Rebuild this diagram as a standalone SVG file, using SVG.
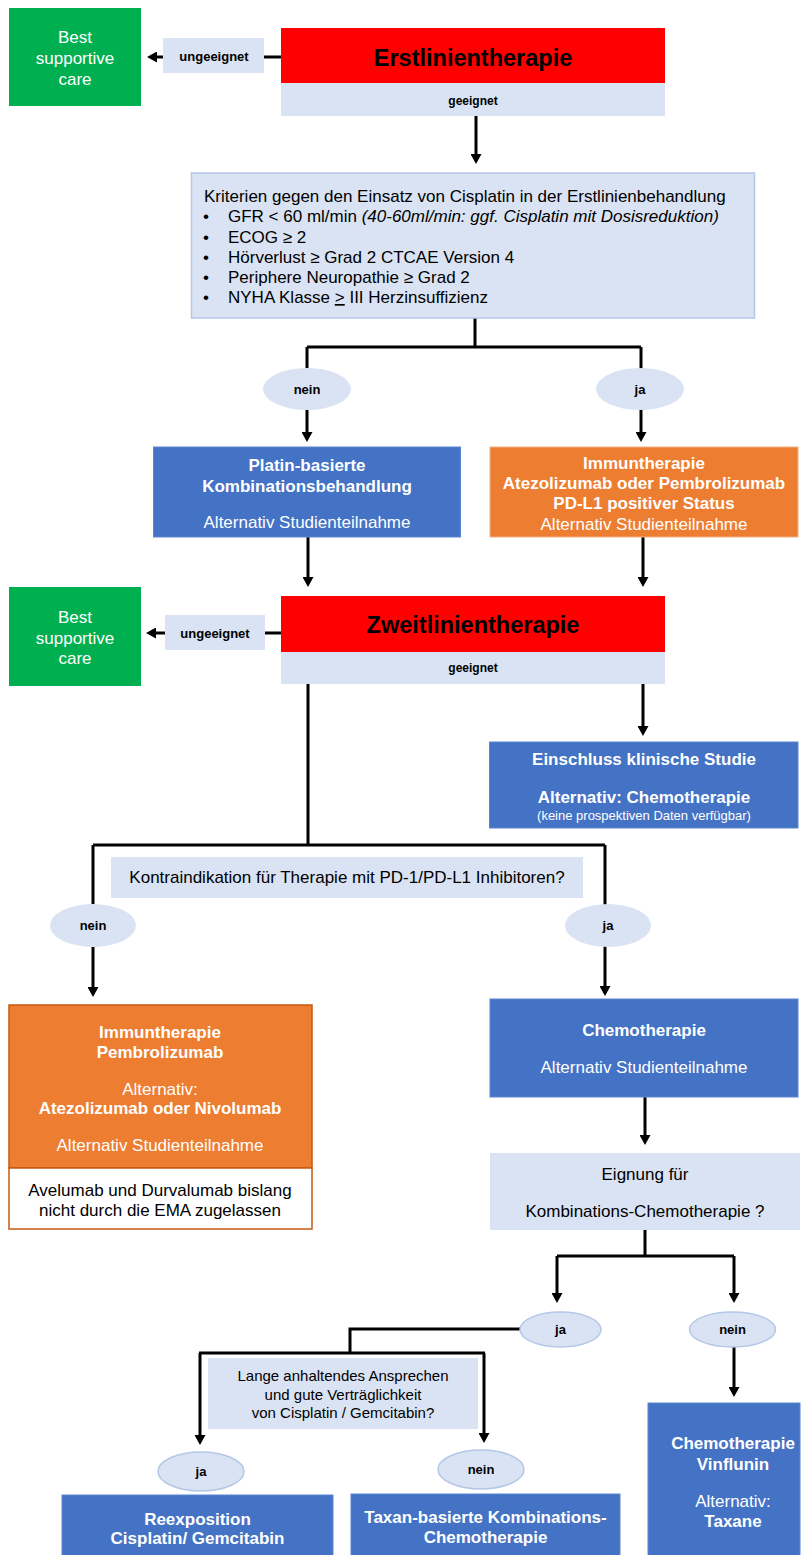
<svg xmlns="http://www.w3.org/2000/svg" width="807" height="1555" viewBox="0 0 807 1555">
<style>
text{font-family:"Liberation Sans",Arial,sans-serif;}
.c{text-anchor:middle}
.t17{font-size:17px}
.b{font-weight:bold}
.w{fill:#fff}
.k{fill:#000}
.lbl{font-size:13px;font-weight:bold;text-anchor:middle;fill:#000}
.title{font-size:23.5px;font-weight:bold;text-anchor:middle;fill:#000}
.conn{fill:none;stroke:#000;stroke-width:3}
.green{fill:#00B050}
.red{fill:#FF0000}
.pale{fill:#DAE3F3}
.paleS{fill:#DAE3F3;stroke:#B4C7E7;stroke-width:1.5}
.blue{fill:#4472C4;stroke:#5B86D0;stroke-width:1}
.orange{fill:#ED7D31;stroke:#F4B183;stroke-width:1}
.ell{fill:#DAE3F3;stroke:#B4C7E7;stroke-width:1.5}
</style>
<defs>
<marker id="ah" markerWidth="10" markerHeight="11" refX="3" refY="5.5" orient="auto" markerUnits="userSpaceOnUse">
<path d="M0,0 L10,5.5 L0,11 z" fill="#000"/>
</marker>
</defs>

<g id="connectors">
<path class="conn" d="M281,57 H154" marker-end="url(#ah)"/>
<path class="conn" d="M476,116 V157" marker-end="url(#ah)"/>
<path class="conn" d="M475,318 V347 M307,347 H641"/>
<path class="conn" d="M307,347 V435" marker-end="url(#ah)"/>
<path class="conn" d="M641,347 V435" marker-end="url(#ah)"/>
<path class="conn" d="M308,537 V580" marker-end="url(#ah)"/>
<path class="conn" d="M643,537 V580" marker-end="url(#ah)"/>
<path class="conn" d="M281,633 H153" marker-end="url(#ah)"/>
<path class="conn" d="M308,684 V845 M93,845 H605"/>
<path class="conn" d="M643,684 V729" marker-end="url(#ah)"/>
<path class="conn" d="M93,845 V990" marker-end="url(#ah)"/>
<path class="conn" d="M605,845 V989" marker-end="url(#ah)"/>
<path class="conn" d="M645,1097 V1138" marker-end="url(#ah)"/>
<path class="conn" d="M645,1230 V1256 M557,1256 H734"/>
<path class="conn" d="M557,1256 V1296" marker-end="url(#ah)"/>
<path class="conn" d="M734,1256 V1296" marker-end="url(#ah)"/>
<path class="conn" d="M734,1347 V1390" marker-end="url(#ah)"/>
<path class="conn" d="M521,1329 H350 V1353 M199,1353 H485"/>
<path class="conn" d="M200,1353 V1438" marker-end="url(#ah)"/>
<path class="conn" d="M484,1353 V1436" marker-end="url(#ah)"/>
</g>

<g id="bsc1">
<rect class="green" x="9" y="8" width="132" height="98"/>
<text class="c t17 w" x="75" y="43">Best</text>
<text class="c t17 w" x="75" y="64">supportive</text>
<text class="c t17 w" x="75" y="85">care</text>
</g>
<g id="ungeeignet1">
<rect class="pale" x="163" y="38" width="101" height="35"/>
<text class="lbl" x="214" y="61">ungeeignet</text>
</g>
<g id="erstlinie">
<rect class="red" x="281" y="28" width="384" height="55"/>
<text class="title" x="473" y="66">Erstlinientherapie</text>
<rect class="pale" x="281" y="83" width="384" height="33"/>
<text class="lbl" x="473" y="105" style="font-size:12px">geeignet</text>
</g>
<g id="kriterien">
<rect class="paleS" x="191.5" y="173" width="563" height="145"/>
<text class="t17 k" x="204" y="202">Kriterien gegen den Einsatz von Cisplatin in der Erstlinienbehandlung</text>
<text class="t17 k" x="203" y="222">•</text>
<text class="t17 k" x="228" y="222">GFR &lt; 60 ml/min <tspan font-style="italic">(40-60ml/min: ggf. Cisplatin mit Dosisreduktion)</tspan></text>
<text class="t17 k" x="203" y="243">•</text>
<text class="t17 k" x="228" y="243">ECOG ≥ 2</text>
<text class="t17 k" x="203" y="263">•</text>
<text class="t17 k" x="228" y="263">Hörverlust ≥ Grad 2 CTCAE Version 4</text>
<text class="t17 k" x="203" y="283">•</text>
<text class="t17 k" x="228" y="283">Periphere Neuropathie ≥ Grad 2</text>
<text class="t17 k" x="203" y="303">•</text>
<text class="t17 k" x="228" y="303">NYHA Klasse <tspan text-decoration="underline">&gt;</tspan> III Herzinsuffizienz</text>
</g>
<g id="nein1">
<ellipse class="ell" cx="307" cy="389" rx="44" ry="21" style="stroke:none"/>
<text class="lbl" x="307" y="393.5">nein</text>
</g>
<g id="ja1">
<ellipse class="ell" cx="640" cy="389" rx="44" ry="21" style="stroke:none"/>
<text class="lbl" x="640" y="393.5">ja</text>
</g>
<g id="platin">
<rect class="blue" x="153.5" y="447" width="307" height="90"/>
<text class="c t17 b w" x="307" y="471">Platin-basierte</text>
<text class="c t17 b w" x="307" y="492">Kombinationsbehandlung</text>
<text class="c t17 w" x="307" y="528">Alternativ Studienteilnahme</text>
</g>
<g id="immun1">
<rect class="orange" x="490" y="447" width="308" height="90"/>
<text class="c t17 b w" x="644" y="469">Immuntherapie</text>
<text class="c t17 b w" x="644" y="489">Atezolizumab oder Pembrolizumab</text>
<text class="c t17 b w" x="644" y="509">PD-L1 positiver Status</text>
<text class="c t17 w" x="644" y="530">Alternativ Studienteilnahme</text>
</g>
<g id="bsc2">
<rect class="green" x="9" y="587" width="132" height="99"/>
<text class="c t17 w" x="75" y="623">Best</text>
<text class="c t17 w" x="75" y="644">supportive</text>
<text class="c t17 w" x="75" y="664">care</text>
</g>
<g id="ungeeignet2">
<rect class="pale" x="165" y="615" width="100" height="35"/>
<text class="lbl" x="215" y="638">ungeeignet</text>
</g>
<g id="zweitlinie">
<rect class="red" x="281" y="596" width="384" height="56"/>
<text class="title" x="473" y="633">Zweitlinientherapie</text>
<rect class="pale" x="281" y="652" width="384" height="32"/>
<text class="lbl" x="473" y="672" style="font-size:12px">geeignet</text>
</g>
<g id="einschluss">
<rect class="blue" x="489.5" y="742" width="308.5" height="86"/>
<text class="c t17 b w" x="644" y="765">Einschluss klinische Studie</text>
<text class="c t17 b w" x="644" y="803">Alternativ: Chemotherapie</text>
<text class="c w" x="644" y="819.5" style="font-size:13px">(keine prospektiven Daten verfügbar)</text>
</g>
<g id="kontra">
<rect class="pale" x="111" y="857" width="472" height="41"/>
<text class="c t17 k" x="347" y="883">Kontraindikation für Therapie mit PD-1/PD-L1 Inhibitoren?</text>
</g>
<g id="nein2">
<ellipse class="ell" cx="93" cy="925.5" rx="43" ry="21.5" style="stroke:none"/>
<text class="lbl" x="93" y="930">nein</text>
</g>
<g id="ja2">
<ellipse class="ell" cx="608" cy="925.5" rx="43" ry="21.5" style="stroke:none"/>
<text class="lbl" x="608" y="930">ja</text>
</g>
<g id="immun2">
<rect x="9" y="1005" width="303" height="163" fill="#ED7D31" stroke="#C55A11" stroke-width="1.5"/>
<rect x="9" y="1168" width="303" height="61" fill="#fff" stroke="#C55A11" stroke-width="1.5"/>
<text class="c t17 b w" x="160" y="1038">Immuntherapie</text>
<text class="c t17 b w" x="160" y="1058">Pembrolizumab</text>
<text class="c t17 w" x="160" y="1095">Alternativ:</text>
<text class="c t17 b w" x="160" y="1114">Atezolizumab oder Nivolumab</text>
<text class="c t17 w" x="160" y="1151">Alternativ Studienteilnahme</text>
<text class="c t17 k" x="160" y="1196">Avelumab und Durvalumab bislang</text>
<text class="c t17 k" x="160" y="1216">nicht durch die EMA zugelassen</text>
</g>
<g id="chemo">
<rect class="blue" x="490" y="999" width="308" height="98"/>
<text class="c t17 b w" x="644" y="1036">Chemotherapie</text>
<text class="c t17 w" x="644" y="1073">Alternativ Studienteilnahme</text>
</g>
<g id="eignung">
<rect class="pale" x="490" y="1153" width="310" height="77"/>
<text class="c t17 k" x="645" y="1180">Eignung für</text>
<text class="c t17 k" x="645" y="1217">Kombinations-Chemotherapie ?</text>
</g>
<g id="ja3">
<ellipse class="ell" cx="560.5" cy="1329.5" rx="40.5" ry="17.5"/>
<text class="lbl" x="560.5" y="1334">ja</text>
</g>
<g id="nein3">
<ellipse class="ell" cx="732.5" cy="1329.5" rx="43" ry="17.5"/>
<text class="lbl" x="732.5" y="1334">nein</text>
</g>
<g id="lange">
<rect class="pale" x="208" y="1358" width="270" height="71"/>
<text class="c k" x="343" y="1381" style="font-size:15px">Lange anhaltendes Ansprechen</text>
<text class="c k" x="343" y="1400" style="font-size:15px">und gute Verträglichkeit</text>
<text class="c k" x="343" y="1418" style="font-size:15px">von Cisplatin / Gemcitabin?</text>
</g>
<g id="ja4">
<ellipse class="ell" cx="201" cy="1471.5" rx="43" ry="19.5"/>
<text class="lbl" x="201" y="1476">ja</text>
</g>
<g id="nein4">
<ellipse class="ell" cx="481" cy="1469.5" rx="43" ry="19.5"/>
<text class="lbl" x="481" y="1474">nein</text>
</g>
<g id="reexposition">
<rect class="blue" x="62" y="1495" width="271" height="62"/>
<text class="c t17 b w" x="197.5" y="1525">Reexposition</text>
<text class="c t17 b w" x="197.5" y="1544">Cisplatin/ Gemcitabin</text>
</g>
<g id="taxan">
<rect class="blue" x="351" y="1494" width="269" height="63"/>
<text class="c t17 b w" x="485.5" y="1523">Taxan-basierte Kombinations-</text>
<text class="c t17 b w" x="485.5" y="1543">Chemotherapie</text>
</g>
<g id="vinflunin">
<rect class="blue" x="648" y="1403" width="152" height="154"/>
<text class="c t17 b w" x="733" y="1449">Chemotherapie</text>
<text class="c t17 b w" x="733" y="1470">Vinflunin</text>
<text class="c t17 w" x="733" y="1507">Alternativ:</text>
<text class="c t17 b w" x="733" y="1527">Taxane</text>
</g>
</svg>
